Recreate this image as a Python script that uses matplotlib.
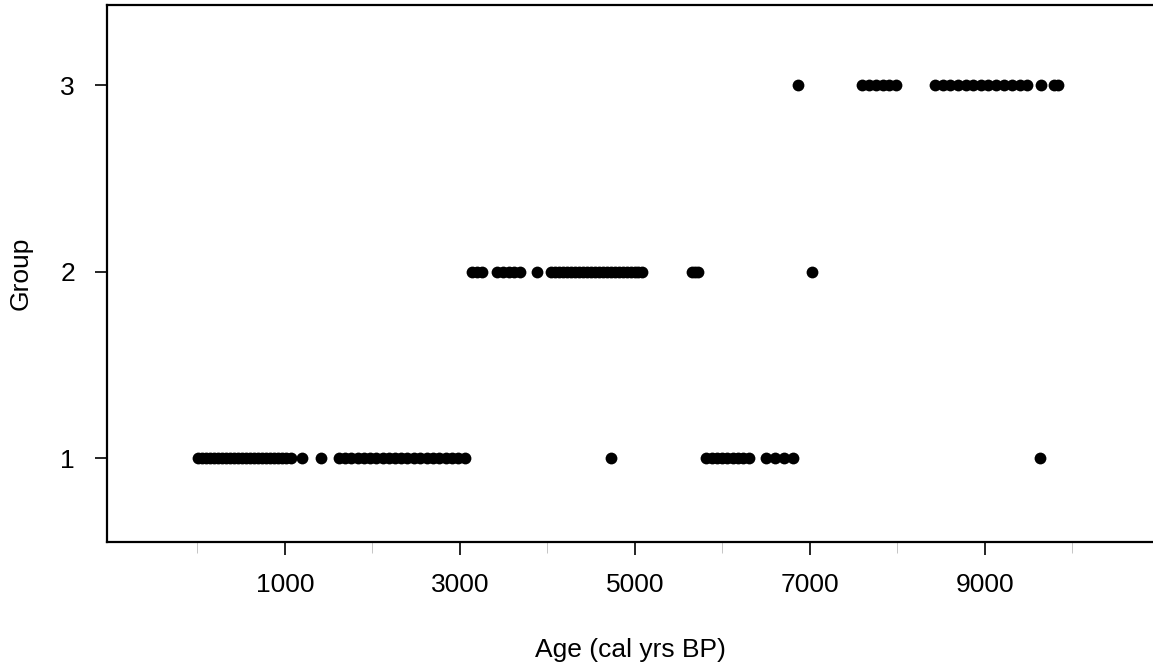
import matplotlib
matplotlib.use('Agg')
import matplotlib.pyplot as plt
from matplotlib.ticker import FixedLocator

plt.rcParams['font.family'] = ['Liberation Sans', 'DejaVu Sans']

# ages (cal yrs BP), one list per group
group1_ages = [10, 55, 100, 145, 190, 235, 280, 325, 370, 415, 460, 505, 550,
               600, 645, 690, 735, 780, 830, 875, 920, 965, 1015, 1065,
               1190, 1410,
               1620, 1690, 1760, 1830, 1905, 1975, 2045, 2115, 2190, 2260,
               2330, 2400, 2475, 2545, 2620, 2690, 2760, 2835, 2905, 2980, 3055,
               4730,
               5815, 5875, 5935, 5995, 6055, 6120, 6180, 6240, 6300,
               6500, 6600, 6705, 6805,
               9630]
group2_ages = [3135, 3195, 3250,
               3420, 3490, 3555, 3620, 3690,
               3875,
               4045, 4090, 4135, 4180, 4225, 4270, 4315, 4360, 4405, 4450,
               4495, 4540, 4585, 4630, 4680, 4725, 4770, 4815, 4860, 4905,
               4950, 4995, 5040, 5085,
               5655, 5690, 5720,
               7020]
group3_ages = [6865,
               7600, 7675, 7750, 7830, 7905, 7985,
               8425, 8515, 8600, 8690, 8780, 8865, 8955, 9040, 9130, 9220,
               9305, 9395, 9485,
               9635, 9790, 9835]

x_major = [1000, 3000, 5000, 7000, 9000]
x_minor = [0, 2000, 4000, 6000, 8000, 10000]
y_ticks = [1, 2, 3]

fig = plt.figure(figsize=(11.53, 6.69), dpi=100)
ax = fig.add_axes([0.0928, 0.1898, 0.9072, 0.8027])

for g, ages in zip(y_ticks, [group1_ages, group2_ages, group3_ages]):
    ax.plot(ages, [g] * len(ages), 'o', color='black', markersize=8.5,
            markeredgewidth=0, linestyle='none')

ax.set_xlim(-1034, 10920)
ax.set_ylim(0.55, 3.43)

ax.xaxis.set_major_locator(FixedLocator(x_major))
ax.xaxis.set_minor_locator(FixedLocator(x_minor))
ax.set_yticks(y_ticks)
ax.set_yticklabels([str(t) for t in y_ticks])

ax.tick_params(axis='both', which='major', direction='out', length=9,
               width=1.2, labelsize=19, colors='black')
ax.tick_params(axis='x', which='major', pad=13)
ax.tick_params(axis='y', which='major', pad=14)
ax.tick_params(axis='x', which='minor', direction='out', length=8,
               width=0.6, color='#bbbbbb')

for side in ['left', 'bottom', 'top']:
    ax.spines[side].set_linewidth(1.6)
    ax.spines[side].set_color('black')
ax.spines['right'].set_visible(False)

ax.set_xlabel('Age (cal yrs BP)', fontsize=19, labelpad=30)
ax.set_ylabel('Group', fontsize=19, labelpad=20)

fig.savefig('out.png', dpi=100)
